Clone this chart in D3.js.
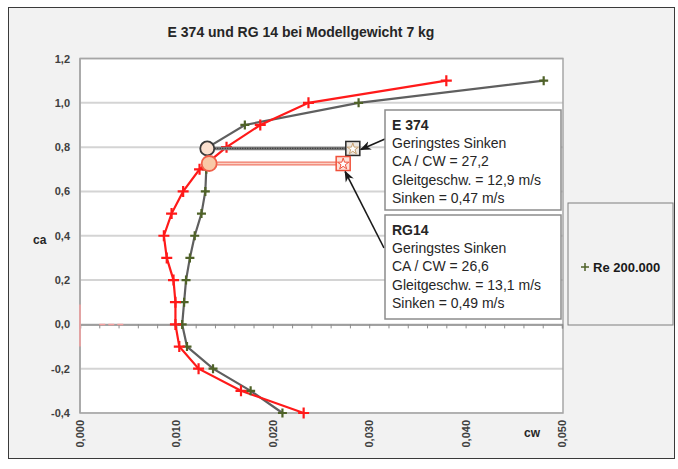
<!DOCTYPE html>
<html>
<head>
<meta charset="utf-8">
<script src="https://cdn.jsdelivr.net/npm/d3@7"></script>
<style>
  body { margin: 0; background: #fff; }
  svg { display: block; font-family: "Liberation Sans", Arial, sans-serif; }
</style>
</head>
<body>
<div id="chart"></div>
<script>
// ca stations of the polars
const caLevels = [-0.4, -0.3, -0.2, -0.1, 0.0, 0.1, 0.2, 0.3, 0.4, 0.5, 0.6, 0.7, 0.8, 0.9, 1.0, 1.1];
// cw values
const cwE374 = [0.0210, 0.0177, 0.0138, 0.0111, 0.0106, 0.0108, 0.0110, 0.0114, 0.0119, 0.0126, 0.0130, 0.0131, 0.0133, 0.0171, 0.0289, 0.0481];
const cwRG14 = [0.0232, 0.0167, 0.0123, 0.0103, 0.0099, 0.0099, 0.0097, 0.0090, 0.0087, 0.0095, 0.0107, 0.0124, 0.0152, 0.0187, 0.0237, 0.0380];

// geringstes Sinken: circle on the polar, square at the end of the marker line
const minSinkE374 = [{cw: 0.0132, ca: 0.794}, {cw: 0.0283, ca: 0.794}];
const minSinkRG14 = [{cw: 0.0134, ca: 0.726}, {cw: 0.0273, ca: 0.726}];

// stray red bits near cw = 0
const strayV = [{cw: 0, ca: -0.1}, {cw: 0, ca: 0.09}];
const strayH = [{cw: 0.002, ca: 0}, {cw: 0.0047, ca: 0}];

const caTicks = [-0.4, -0.2, 0.0, 0.2, 0.4, 0.6, 0.8, 1.0, 1.2];
const cwTicks = [0, 0.01, 0.02, 0.03, 0.04, 0.05];

const title = "E 374 und RG 14 bei Modellgewicht 7 kg";
const boxE374 = ["E 374", "Geringstes Sinken", "CA / CW = 27,2", "Gleitgeschw. = 12,9 m/s", "Sinken = 0,47 m/s"];
const boxRG14 = ["RG14", "Geringstes Sinken", "CA / CW = 26,6", "Gleitgeschw. = 13,1 m/s", "Sinken = 0,49 m/s"];
const legendLabel = "Re 200.000";

const width = 678, height = 469;
const plot = {left: 80, right: 563, top: 58.5, bottom: 413};

const x = d3.scaleLinear().domain([0, 0.05]).range([plot.left, 562]);
const y = d3.scaleLinear().domain([-0.4, 1.2]).range([plot.bottom, plot.top]);

const svg = d3.select("#chart").append("svg")
    .attr("width", width)
    .attr("height", height);

// outer chart frame
svg.append("rect")
    .attr("x", 8.5).attr("y", 7.5)
    .attr("width", 666).attr("height", 451)
    .attr("fill", "#f2f2f2")
    .attr("stroke", "#3a3a3a")
    .attr("stroke-width", 1);

// plot area
svg.append("rect")
    .attr("x", plot.left).attr("y", plot.top)
    .attr("width", plot.right - plot.left).attr("height", plot.bottom - plot.top)
    .attr("fill", "#fff");

// grid lines
svg.append("g").selectAll("line")
  .data(caTicks)
  .join("line")
    .attr("x1", plot.left).attr("x2", plot.right)
    .attr("y1", d => y(d)).attr("y2", d => y(d))
    .attr("stroke", "#d4d4d4")
    .attr("stroke-width", 2);

// plot border
svg.append("rect")
    .attr("x", plot.left).attr("y", plot.top)
    .attr("width", plot.right - plot.left).attr("height", plot.bottom - plot.top)
    .attr("fill", "none")
    .attr("stroke", "#a6a6a6")
    .attr("stroke-width", 1.5);

// x axis crosses at ca = 0, minor ticks every 0.002
const xAxis = d3.axisBottom(x)
    .tickValues(d3.range(0, 0.0501, 0.002))
    .tickSize(4)
    .tickFormat("");
svg.append("g")
    .attr("transform", "translate(0," + y(0) + ")")
    .call(xAxis)
    .call(g => g.select(".domain").attr("stroke", "#8c8c8c").attr("stroke-width", 1.5))
    .call(g => g.selectAll(".tick line").attr("stroke", "#8c8c8c"));

// y axis line
svg.append("line")
    .attr("x1", plot.left).attr("x2", plot.left)
    .attr("y1", plot.top).attr("y2", plot.bottom)
    .attr("stroke", "#a6a6a6")
    .attr("stroke-width", 1.5);

// y tick labels
svg.append("g").selectAll("text")
  .data(caTicks)
  .join("text")
    .attr("x", 70)
    .attr("y", d => y(d) + 4)
    .attr("text-anchor", "end")
    .attr("font-size", 11)
    .attr("font-weight", "bold")
    .attr("fill", "#404040")
    .text(d => d3.format(".1f")(d).replace(".", ",").replace("−", "-"));

// x tick labels, rotated
svg.append("g").selectAll("text")
  .data(cwTicks)
  .join("text")
    .attr("transform", d => "translate(" + (x(d) + 4) + "," + 420 + ") rotate(-90)")
    .attr("text-anchor", "end")
    .attr("font-size", 11)
    .attr("font-weight", "bold")
    .attr("fill", "#404040")
    .text(d => d3.format(".3f")(d).replace(".", ","));

// axis titles
svg.append("text")
    .attr("x", 33).attr("y", 244)
    .attr("font-size", 12).attr("font-weight", "bold")
    .attr("fill", "#262626")
    .text("ca");
svg.append("text")
    .attr("x", 524).attr("y", 437)
    .attr("font-size", 12).attr("font-weight", "bold")
    .attr("fill", "#262626")
    .text("cw");

// chart title
svg.append("text")
    .attr("x", 301).attr("y", 37)
    .attr("text-anchor", "middle")
    .attr("font-size", 14).attr("font-weight", "bold")
    .attr("fill", "#262626")
    .text(title);

// stray red bits at cw = 0
const lineXY = d3.line().x(d => x(d.cw)).y(d => y(d.ca));
svg.append("path").attr("d", lineXY(strayV))
    .attr("fill", "none").attr("stroke", "#f4a0a0").attr("stroke-width", 1.5);
svg.append("path").attr("d", lineXY(strayH))
    .attr("fill", "none").attr("stroke", "#f4a0a0").attr("stroke-width", 1.5)
    .attr("stroke-dasharray", "6,3");

// polars
const polarE374 = caLevels.map((ca, i) => ({ca: ca, cw: cwE374[i]}));
const polarRG14 = caLevels.map((ca, i) => ({ca: ca, cw: cwRG14[i]}));

svg.append("path").attr("d", lineXY(polarE374))
    .attr("fill", "none").attr("stroke", "#5f5f5f").attr("stroke-width", 2.2);
svg.append("path").attr("d", lineXY(polarRG14))
    .attr("fill", "none").attr("stroke", "#ff1a1a").attr("stroke-width", 2.2);

function plus(sel, data, size, color) {
  sel.append("g").selectAll("path")
    .data(data)
    .join("path")
      .attr("d", d => {
        const px = x(d.cw), py = y(d.ca);
        return "M" + (px - size) + "," + py + "H" + (px + size) +
               "M" + px + "," + (py - size) + "V" + (py + size);
      })
      .attr("stroke", color)
      .attr("stroke-width", 2.2);
}
plus(svg, polarE374, 4.5, "#4f6228");
plus(svg, polarRG14, 5.5, "#ff1a1a");

// geringstes Sinken marker lines
svg.append("path").attr("d", lineXY(minSinkE374))
    .attr("stroke", "#7a7a7a").attr("stroke-width", 3.5);
svg.append("path").attr("d", lineXY(minSinkE374))
    .attr("stroke", "#303030").attr("stroke-width", 1.2).attr("stroke-dasharray", "1,1.5");
svg.append("path").attr("d", lineXY(minSinkRG14))
    .attr("stroke", "#f07a68").attr("stroke-width", 4);
svg.append("path").attr("d", lineXY(minSinkRG14))
    .attr("stroke", "#fbd2c6").attr("stroke-width", 1.4);

// circles on the polars
svg.append("circle")
    .attr("cx", x(minSinkE374[0].cw)).attr("cy", y(minSinkE374[0].ca)).attr("r", 7)
    .attr("fill", "#fbe0cf").attr("stroke", "#3a3a3a").attr("stroke-width", 1.8);
svg.append("circle")
    .attr("cx", x(minSinkRG14[0].cw)).attr("cy", y(minSinkRG14[0].ca)).attr("r", 7.5)
    .attr("fill", "#f9c9a7").attr("stroke", "#f0604a").attr("stroke-width", 1.8);

// squares with stars
const star = d3.symbol().type(d3.symbolStar).size(40);
[[minSinkE374[1], "#2a2a2a", "#ece6df", "#c8a070"],
 [minSinkRG14[1], "#f0503a", "#fde3da", "#f0503a"]].forEach(m => {
  const px = x(m[0].cw), py = y(m[0].ca);
  svg.append("rect")
      .attr("x", px - 7).attr("y", py - 7).attr("width", 14).attr("height", 14)
      .attr("fill", m[2]).attr("stroke", m[1]).attr("stroke-width", 1.5);
  svg.append("path")
      .attr("d", star())
      .attr("transform", "translate(" + px + "," + (py + 0.5) + ")")
      .attr("fill", "#fff").attr("stroke", m[3]).attr("stroke-width", 1);
});

// arrows from the callouts
svg.append("defs").append("marker")
    .attr("id", "arrow")
    .attr("viewBox", "0 0 10 10")
    .attr("refX", 9).attr("refY", 5)
    .attr("markerWidth", 7).attr("markerHeight", 7)
    .attr("orient", "auto")
  .append("path")
    .attr("d", "M0,1 L10,5 L0,9 L3,5 Z")
    .attr("fill", "#1a1a1a");

svg.append("line")
    .attr("x1", 385).attr("y1", 139)
    .attr("x2", x(minSinkE374[1].cw) + 8).attr("y2", y(minSinkE374[1].ca) + 1)
    .attr("stroke", "#1a1a1a").attr("stroke-width", 1.6)
    .attr("marker-end", "url(#arrow)");
svg.append("line")
    .attr("x1", 384).attr("y1", 248)
    .attr("x2", x(minSinkRG14[1].cw) + 2).attr("y2", y(minSinkRG14[1].ca) + 8)
    .attr("stroke", "#1a1a1a").attr("stroke-width", 1.6)
    .attr("marker-end", "url(#arrow)");

// callout boxes
function callout(lines, top, h) {
  svg.append("rect")
      .attr("x", 385).attr("y", top)
      .attr("width", 176).attr("height", h)
      .attr("fill", "#fff").attr("stroke", "#8c8c8c").attr("stroke-width", 1.5);
  svg.append("g").selectAll("text")
    .data(lines)
    .join("text")
      .attr("x", 392)
      .attr("y", (d, i) => top + 20 + i * 18.2)
      .attr("font-size", 14)
      .attr("font-weight", (d, i) => i === 0 ? "bold" : "normal")
      .attr("fill", "#262626")
      .text(d => d);
}
callout(boxE374, 110, 100);
callout(boxRG14, 215, 104);

// legend
svg.append("rect")
    .attr("x", 568).attr("y", 203)
    .attr("width", 105).attr("height", 122)
    .attr("fill", "#f2f2f2").attr("stroke", "#7f7f7f").attr("stroke-width", 1);
svg.append("path")
    .attr("d", "M581,267H589M585,263V271")
    .attr("stroke", "#4f6228").attr("stroke-width", 1.5);
svg.append("text")
    .attr("x", 593).attr("y", 272)
    .attr("font-size", 13).attr("font-weight", "bold")
    .attr("fill", "#1a1a1a")
    .text(legendLabel);
</script>
</body>
</html>
